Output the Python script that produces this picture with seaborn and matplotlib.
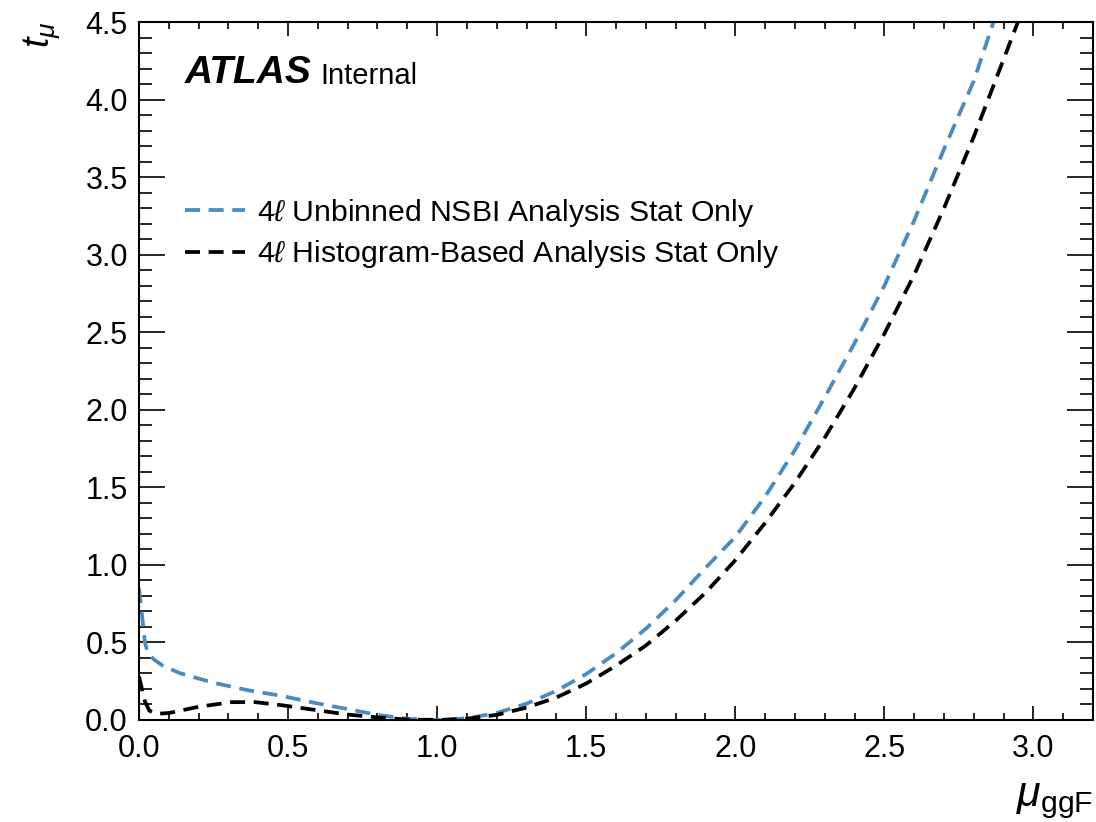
import numpy as np
import pandas as pd
import matplotlib
matplotlib.use("Agg")
import matplotlib.pyplot as plt
import seaborn as sns
from matplotlib.ticker import MultipleLocator

# --- data ---
nsbi_mu = [0.00, 0.01, 0.02, 0.03, 0.05, 0.08, 0.14, 0.25, 0.37, 0.48, 0.59, 0.70,
           0.81, 0.90, 1.00, 1.10, 1.20, 1.30, 1.40, 1.50, 1.60, 1.70, 1.80, 1.90,
           2.00, 2.10, 2.20, 2.30, 2.40, 2.50, 2.60, 2.70, 2.80, 2.866]
nsbi_t = [0.85, 0.68, 0.50, 0.43, 0.39, 0.35, 0.30, 0.24, 0.19, 0.155, 0.11, 0.07,
          0.03, 0.008, 0.0, 0.011, 0.045, 0.105, 0.188, 0.296, 0.43, 0.588, 0.772, 0.98,
          1.18, 1.44, 1.74, 2.08, 2.43, 2.80, 3.22, 3.68, 4.12, 4.5]

hist_mu = [0.00, 0.01, 0.02, 0.035, 0.06, 0.10, 0.20, 0.31, 0.39, 0.48, 0.59, 0.70,
           0.81, 0.90, 1.00, 1.10, 1.20, 1.30, 1.40, 1.50, 1.60, 1.70, 1.80, 1.90,
           2.00, 2.10, 2.20, 2.30, 2.40, 2.50, 2.60, 2.70, 2.80, 2.90, 2.95]
hist_t = [0.28, 0.20, 0.12, 0.06, 0.04, 0.045, 0.085, 0.115, 0.115, 0.095, 0.065, 0.035,
          0.015, 0.003, 0.0, 0.008, 0.033, 0.08, 0.145, 0.235, 0.35, 0.48, 0.64, 0.82,
          1.03, 1.27, 1.53, 1.82, 2.14, 2.49, 2.87, 3.30, 3.76, 4.26, 4.51]

labels = [r"4$\ell$ Unbinned NSBI Analysis Stat Only",
          r"4$\ell$ Histogram-Based Analysis Stat Only"]
colors = ["#4a8bc2", "#000000"]

sns.set_theme(style="ticks")
plt.rcParams["font.family"] = ["Liberation Sans", "DejaVu Sans"]
plt.rcParams["mathtext.fontset"] = "custom"
plt.rcParams["mathtext.rm"] = "Liberation Sans"
plt.rcParams["mathtext.it"] = "Liberation Sans:italic"
plt.rcParams["mathtext.bf"] = "Liberation Sans:bold"
plt.rcParams["text.color"] = "black"
plt.rcParams["axes.labelcolor"] = "black"
plt.rcParams["xtick.color"] = "black"
plt.rcParams["ytick.color"] = "black"

fig = plt.figure(figsize=(10.96, 8.22), dpi=100)
ax = fig.add_axes([0.1268, 0.1241, 0.9973 - 0.1268, 0.9732 - 0.1241])

df1 = pd.DataFrame({"mu": nsbi_mu, "t": nsbi_t})
df2 = pd.DataFrame({"mu": hist_mu, "t": hist_t})
sns.lineplot(data=df1, x="mu", y="t", ax=ax, color=colors[0], lw=2.7,
             label=labels[0], sort=False)
sns.lineplot(data=df2, x="mu", y="t", ax=ax, color=colors[1], lw=2.7,
             label=labels[1], sort=False)
for ln in ax.lines:
    ln.set_dashes((4.0, 2.3))

ax.set_xlim(0, 3.2)
ax.set_ylim(0, 4.5)
ax.xaxis.set_major_locator(MultipleLocator(0.5))
ax.xaxis.set_minor_locator(MultipleLocator(0.1))
ax.yaxis.set_major_locator(MultipleLocator(0.5))
ax.yaxis.set_minor_locator(MultipleLocator(0.1))
ax.tick_params(axis="both", which="both", direction="in", top=True, right=True,
               labelsize=22, width=1.2, colors="black")
ax.tick_params(axis="x", which="major", length=10, pad=10)
ax.tick_params(axis="x", which="minor", length=5)
ax.tick_params(axis="y", which="major", length=19, pad=8)
ax.tick_params(axis="y", which="minor", length=9.5)
for s in ax.spines.values():
    s.set_linewidth(1.5)
    s.set_color("black")

ax.set_xlabel(r"$\mu_{\mathrm{ggF}}$", fontsize=31, loc="right", labelpad=12)
ax.set_ylabel(r"$t_{\mu}$", fontsize=27, loc="top", labelpad=16)

ax.text(0.048, 0.927, "ATLAS", transform=ax.transAxes, fontsize=28,
        fontweight="bold", fontstyle="italic", va="center", ha="left")
ax.text(0.19, 0.922, "Internal", transform=ax.transAxes, fontsize=21,
        va="center", ha="left")

leg = ax.legend(loc="upper left", bbox_to_anchor=(0.048, 0.750), frameon=False,
                fontsize=21.7, handlelength=2.0, handletextpad=0.4,
                labelspacing=0.33, borderpad=0, borderaxespad=0)

fig.savefig("out.png", dpi=100)
